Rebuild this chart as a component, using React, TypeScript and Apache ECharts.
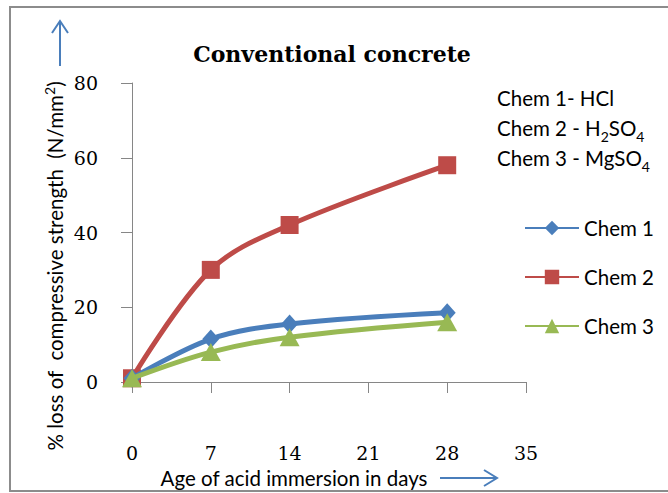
import React, { useEffect, useRef } from "react";
import * as echarts from "echarts";

const days = [0, 7, 14, 28];
const chem1 = [1, 11.5, 15.5, 18.5];
const chem2 = [1, 30, 42, 58];
const chem3 = [1, 8, 12, 16];
const seriesNames = ["Chem 1", "Chem 2", "Chem 3"];
const noteLines = ["Chem 1- HCl", "Chem 2 - H", "Chem 3 - MgSO"];
const titleText = "Conventional concrete";
const xTitle = "Age of acid immersion in days";

const SERIF = "'DejaVu Serif', 'Liberation Serif', serif";
const SANS = "Lato, 'Open Sans', 'Noto Sans', sans-serif";
const FS = 20.5;

export default function App() {
  const ref = useRef<HTMLDivElement>(null);
  useEffect(() => {
    const chart = echarts.init(ref.current!, null, { renderer: "svg" });
    const mk = (data: number[]) => data.map((v, i) => [days[i], v]);
    const arrowColor = "#4a7ebb";
    const txt = { fontFamily: SANS, fontSize: FS, fill: "#000" };
    const rich = {
      a: { fontFamily: SANS, fontSize: FS, color: "#000", lineHeight: 26 },
      sub: { fontFamily: SANS, fontSize: 14, color: "#000", lineHeight: 26, verticalAlign: "bottom", padding: [0, 0, -2, 0] },
      sup: { fontFamily: SANS, fontSize: 14, color: "#000", lineHeight: 26, verticalAlign: "top" },
    };
    chart.setOption({
      animation: false,
      backgroundColor: "#fff",
      title: {
        text: titleText,
        left: 327,
        top: 38,
        textAlign: "center",
        textStyle: { fontFamily: SERIF, fontWeight: "bold", fontSize: 22, color: "#000" },
      },
      grid: { left: 132, right: 142, top: 83, bottom: 111 },
      xAxis: {
        type: "value",
        min: 0,
        max: 35,
        interval: 7,
        splitLine: { show: false },
        axisLine: { lineStyle: { color: "#868686" } },
        axisTick: { show: true, length: 11, lineStyle: { color: "#868686" } },
        axisLabel: { margin: 61, fontFamily: SERIF, fontSize: 19, color: "#000" },
      },
      yAxis: {
        type: "value",
        min: 0,
        max: 80,
        interval: 20,
        splitLine: { show: false },
        axisLine: { show: true, lineStyle: { color: "#868686" } },
        axisTick: { show: true, length: 11, lineStyle: { color: "#868686" } },
        axisLabel: { margin: 34, fontFamily: SERIF, fontSize: 19, color: "#000" },
      },
      legend: {
        orient: "vertical",
        left: 519,
        top: 211,
        itemGap: 25,
        itemWidth: 54,
        itemHeight: 18,
        data: seriesNames,
        textStyle: { fontFamily: SANS, fontSize: FS, color: "#000", lineHeight: 24 },
      },
      series: [
        {
          name: seriesNames[0], type: "line", smooth: 0.35, data: mk(chem1),
          symbol: "diamond", symbolSize: [17, 19],
          lineStyle: { width: 5, color: "#4a7ebb" }, itemStyle: { color: "#4a7ebb" }, z: 3,
        },
        {
          name: seriesNames[1], type: "line", smooth: 0.35, data: mk(chem2),
          symbol: "rect", symbolSize: 18,
          lineStyle: { width: 5, color: "#be4b48" }, itemStyle: { color: "#be4b48" }, z: 2,
        },
        {
          name: seriesNames[2], type: "line", smooth: 0.35, data: mk(chem3),
          symbol: "triangle", symbolSize: [20, 18],
          lineStyle: { width: 5, color: "#98b954" }, itemStyle: { color: "#98b954" }, z: 4,
        },
      ],
      graphic: [
        { type: "rect", shape: { x: 10, y: 7, width: 700, height: 484 }, style: { fill: "none", stroke: "#8c8c8c", lineWidth: 2 }, silent: true },
        {
          type: "text", x: 497, y: 98,
          style: { text: "{a|" + noteLines[0] + "}", rich, verticalAlign: "middle" },
        },
        {
          type: "text", x: 497, y: 128,
          style: { text: "{a|" + noteLines[1] + "}{sub|2}{a|SO}{sub|4}", rich, verticalAlign: "middle" },
        },
        {
          type: "text", x: 497, y: 158,
          style: { text: "{a|" + noteLines[2] + "}{sub|4}", rich, verticalAlign: "middle" },
        },
        {
          type: "text", x: 55, y: 266, rotation: Math.PI / 2,
          style: { text: "{a|% loss of  compressive strength  (N/mm}{sup|2}{a|)}", rich, align: "center", verticalAlign: "middle" },
        },
        {
          type: "text", x: 294, y: 478,
          style: { ...txt, text: xTitle, align: "center", verticalAlign: "middle" },
        },
        // up arrow
        { type: "line", shape: { x1: 60, y1: 66, x2: 60, y2: 21 }, style: { stroke: arrowColor, lineWidth: 2 } },
        { type: "polyline", shape: { points: [[52, 33], [60, 21], [68, 33]] }, style: { stroke: arrowColor, lineWidth: 2, fill: "none" } },
        // right arrow
        { type: "line", shape: { x1: 440, y1: 478, x2: 497, y2: 478 }, style: { stroke: arrowColor, lineWidth: 2 } },
        { type: "polyline", shape: { points: [[484, 470], [497, 478], [484, 486]] }, style: { stroke: arrowColor, lineWidth: 2, fill: "none" } },
      ],
    });
    return () => chart.dispose();
  }, []);
  return <div ref={ref} style={{ position: "absolute", left: 0, top: 0, width: 668, height: 493 }} />;
}
